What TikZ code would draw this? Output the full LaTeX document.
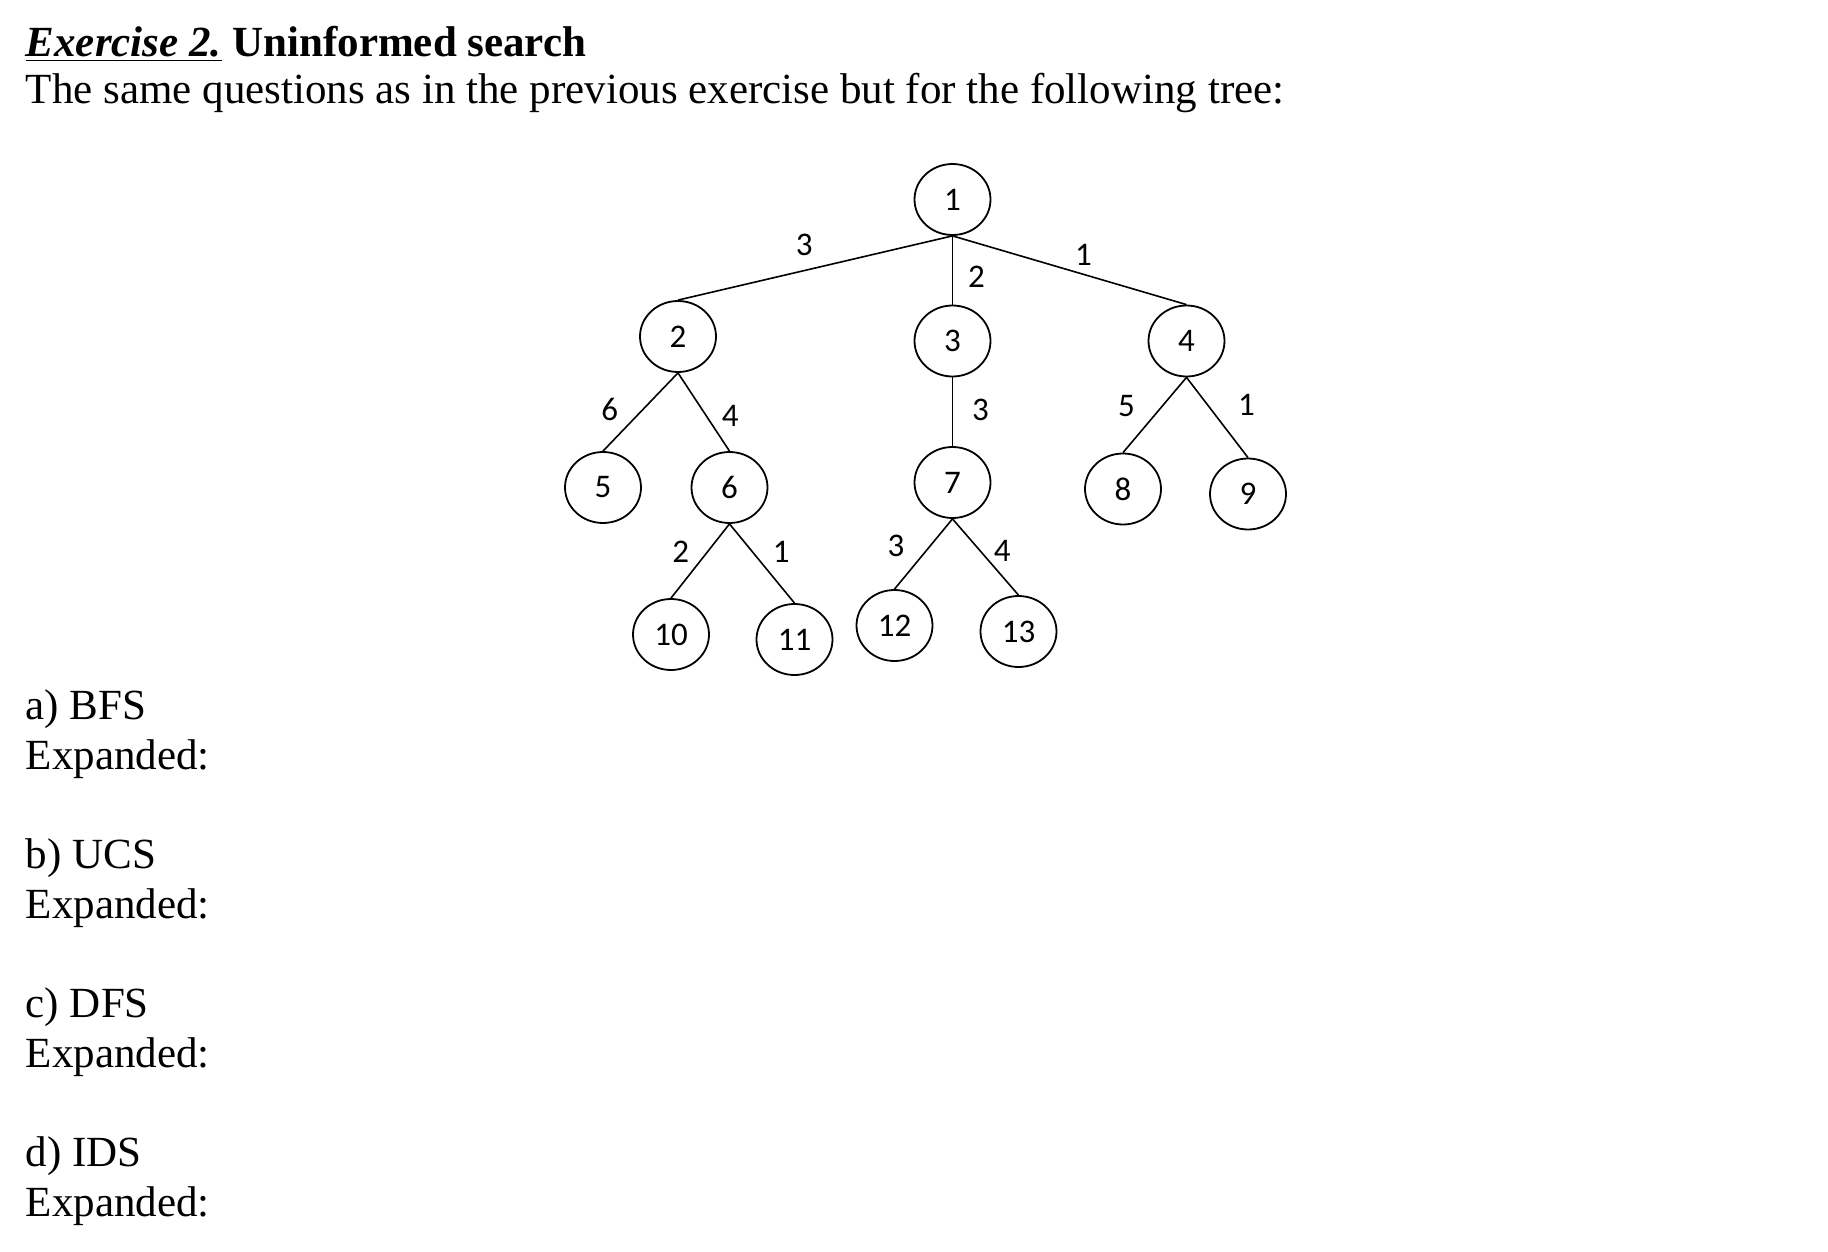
\documentclass[tikz,border=0pt]{standalone}
\usepackage{fontspec}
\setmainfont{Liberation Serif}
\newfontfamily\lblfont{Carlito}
\usetikzlibrary{shapes.geometric, positioning}

\begin{document}
\begin{tikzpicture}[x=0.5pt, y=-0.5pt, line width=0.8pt,
	st/.style={ellipse, draw, line width=0.9pt, minimum width=38pt, minimum height=35.5pt, inner sep=0pt, font=\lblfont\fontsize{16.5}{18}\selectfont},
	lbl/.style={inner sep=0pt, font=\lblfont\fontsize{16.5}{18}\selectfont},
	txt/.style={anchor=base west, inner sep=0pt, font=\fontsize{21.5}{25}\selectfont}]
	\useasboundingbox (0,0) rectangle (1828,1252);

	% heading
	\node[txt] (title) at (25,57)  {\underline{\textbf{\textit{Exercise 2.}}} \textbf{Uninformed search}};
	\node[txt] (intro) at (25,104) {The same questions as in the previous exercise but for the following tree:};

	% the tree
	\node[st] (n1) at (952.5,199.5)   {1};
	\node[st] (n2) at (678,336.5)     {2};
	\node[st] (n3) [below of=n1, node distance=70.75pt] {3};
	\node[st] (n4) [right of=n3, node distance=117pt]   {4};
	\node[st] (n5) at (603,487.5)     {5};
	\node[st] (n6) at (729.5,487.5)   {6};
	\node[st] (n7) [below of=n3, node distance=70.75pt] {7};
	\node[st] (n8) at (1123,489)      {8};
	\node[st] (n9) at (1248,494)      {9};
	\node[st] (n10) at (671,634.5)    {10};
	\node[st] (n11) at (794.5,639.5)  {11};
	\node[st] (n12) at (894.5,625.5)  {12};
	\node[st] (n13) at (1018.5,631.5) {13};

	\path[draw]
		(n1.south) edge node[lbl, pos=0.54, yshift=13pt]   {3} (n2.north)
		(n1.south) edge node[lbl, pos=0.60, xshift=12pt]   {2} (n3.north)
		(n1.south) edge node[lbl, pos=0.56, yshift=9.5pt]  {1} (n4.north)
		(n2.south) edge node[lbl, pos=0.47, xshift=-16.5pt] {6} (n5.north)
		(n2.south) edge node[lbl, pos=0.55, xshift=12pt]   {4} (n6.north)
		(n3.south) edge node[lbl, pos=0.48, xshift=14pt]   {3} (n7.north)
		(n4.south) edge node[lbl, pos=0.38, xshift=-18pt]  {5} (n8.north)
		(n4.south) edge node[lbl, pos=0.34, xshift=19.5pt] {1} (n9.north)
		(n6.south) edge node[lbl, pos=0.37, xshift=-13.5pt] {2} (n10.north)
		(n6.south) edge node[lbl, pos=0.35, xshift=14.5pt] {1} (n11.north)
		(n7.south) edge node[lbl, pos=0.39, xshift=-17pt]  {3} (n12.north)
		(n7.south) edge node[lbl, pos=0.42, xshift=11pt]   {4} (n13.north)
		;

	% questions
	\node[txt] (qa) at (25,719)   {a) BFS};
	\node[txt] (ea) at (25,769)   {Expanded:};
	\node[txt] (qb) at (25,868)   {b) UCS};
	\node[txt] (eb) at (25,918)   {Expanded:};
	\node[txt] (qc) at (25,1017)  {c) DFS};
	\node[txt] (ec) at (25,1067)  {Expanded:};
	\node[txt] (qd) at (25,1166)  {d) IDS};
	\node[txt] (ed) at (25,1216)  {Expanded:};
\end{tikzpicture}
\end{document}
